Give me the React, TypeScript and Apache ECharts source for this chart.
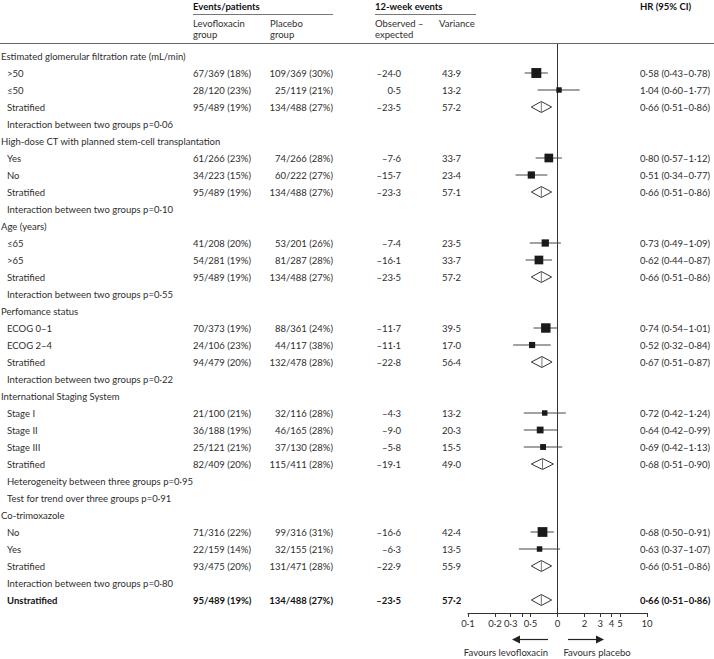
import React, { useEffect, useRef } from "react";
import * as echarts from "echarts";

const FONT = "Lato";
const FS = 9.5;

const rowLabels = [
  "Estimated glomerular filtration rate (mL/min)", ">50", "≤50", "Stratified", "Interaction between two groups p=0·06",
  "High-dose CT with planned stem-cell transplantation", "Yes", "No", "Stratified", "Interaction between two groups p=0·10",
  "Age (years)", "≤65", ">65", "Stratified", "Interaction between two groups p=0·55",
  "Perfomance status", "ECOG 0–1", "ECOG 2–4", "Stratified", "Interaction between two groups p=0·22",
  "International Staging System", "Stage I", "Stage II", "Stage III", "Stratified",
  "Heterogeneity between three groups p=0·95", "Test for trend over three groups p=0·91",
  "Co-trimoxazole", "No", "Yes", "Stratified", "Interaction between two groups p=0·80",
  "Unstratified",
];
// head: group header, sub: subgroup (square), strat: stratified (diamond), note: p-value note, total: bold diamond
const rowKinds = [
  "head", "sub", "sub", "strat", "note",
  "head", "sub", "sub", "strat", "note",
  "head", "sub", "sub", "strat", "note",
  "head", "sub", "sub", "strat", "note",
  "head", "sub", "sub", "sub", "strat", "note", "note",
  "head", "sub", "sub", "strat", "note",
  "total",
];
const levoEvents = [
  "", "67/369 (18%)", "28/120 (23%)", "95/489 (19%)", "",
  "", "61/266 (23%)", "34/223 (15%)", "95/489 (19%)", "",
  "", "41/208 (20%)", "54/281 (19%)", "95/489 (19%)", "",
  "", "70/373 (19%)", "24/106 (23%)", "94/479 (20%)", "",
  "", "21/100 (21%)", "36/188 (19%)", "25/121 (21%)", "82/409 (20%)", "", "",
  "", "71/316 (22%)", "22/159 (14%)", "93/475 (20%)", "",
  "95/489 (19%)",
];
const placeboEvents = [
  "", "109/369 (30%)", "25/119 (21%)", "134/488 (27%)", "",
  "", "74/266 (28%)", "60/222 (27%)", "134/488 (27%)", "",
  "", "53/201 (26%)", "81/287 (28%)", "134/488 (27%)", "",
  "", "88/361 (24%)", "44/117 (38%)", "132/478 (28%)", "",
  "", "32/116 (28%)", "46/165 (28%)", "37/130 (28%)", "115/411 (28%)", "", "",
  "", "99/316 (31%)", "32/155 (21%)", "131/471 (28%)", "",
  "134/488 (27%)",
];
const observedMinusExpected = [
  "", "–24·0", "0·5", "–23·5", "",
  "", "–7·6", "–15·7", "–23·3", "",
  "", "–7·4", "–16·1", "–23·5", "",
  "", "–11·7", "–11·1", "–22·8", "",
  "", "–4·3", "–9·0", "–5·8", "–19·1", "", "",
  "", "–16·6", "–6·3", "–22·9", "",
  "–23·5",
];
const varianceValues = [
  null, 43.9, 13.2, 57.2, null,
  null, 33.7, 23.4, 57.1, null,
  null, 23.5, 33.7, 57.2, null,
  null, 39.5, 17.0, 56.4, null,
  null, 13.2, 20.3, 15.5, 49.0, null, null,
  null, 42.4, 13.5, 55.9, null,
  57.2,
];
const hrValues = [
  null, 0.58, 1.04, 0.66, null,
  null, 0.80, 0.51, 0.66, null,
  null, 0.73, 0.62, 0.66, null,
  null, 0.74, 0.52, 0.67, null,
  null, 0.72, 0.64, 0.69, 0.68, null, null,
  null, 0.68, 0.63, 0.66, null,
  0.66,
];
const hrLow = [
  null, 0.43, 0.60, 0.51, null,
  null, 0.57, 0.34, 0.51, null,
  null, 0.49, 0.44, 0.51, null,
  null, 0.54, 0.32, 0.51, null,
  null, 0.42, 0.42, 0.42, 0.51, null, null,
  null, 0.50, 0.37, 0.51, null,
  0.51,
];
const hrHigh = [
  null, 0.78, 1.77, 0.86, null,
  null, 1.12, 0.77, 0.86, null,
  null, 1.09, 0.87, 0.86, null,
  null, 1.01, 0.84, 0.87, null,
  null, 1.24, 0.99, 1.13, 0.90, null, null,
  null, 0.91, 1.07, 0.86, null,
  0.86,
];

const tickValues = [0.1, 0.2, 0.3, 0.4, 0.5, 1, 2, 3, 4, 5, 10];
const tickLabels = ["0·1", "0·2", "0·3", "", "0·5", "0", "2", "3", "4", "5", "10"];
const labelValues = [0.1, 0.2, 0.3, 0.5, 1, 2, 3, 4, 5, 10];

const fmt = (v: number) => v.toFixed(2).replace(".", "·");

// layout constants
const W = 714;
const H = 659;
const ROW0 = 56;
const ROWH = 17;
const GRID_TOP = 44;
const AXIS_Y = 613;
const GRID_LEFT = 468;
const GRID_RIGHT_X = 647;
const X_LABEL = 1;
const X_INDENT = 7;
const X_LEVO = 193;
const X_PLAC_R = 333;
const X_OE_R = 401;
const X_VAR = 442;
const X_HR = 640;
const TEXT = "#2e2e2e";
const BOLD = "#111";

export default function App() {
  const ref = useRef<HTMLDivElement>(null);
  useEffect(() => {
    if (!ref.current) return;
    const chart = echarts.init(ref.current, null, { renderer: "svg" });
    const yMin = (GRID_TOP - ROW0) / ROWH;
    const yMax = (AXIS_Y - ROW0) / ROWH;

    const textEl = (s: string, x: number, y: number, align: string, bold: boolean) => ({
      type: "text",
      x,
      y,
      style: {
        text: s,
        align,
        verticalAlign: "middle",
        fill: bold ? BOLD : TEXT,
        fontFamily: FONT,
        fontSize: FS,
        fontWeight: bold ? "bold" : "normal",
      },
    });

    const rowsRender = (params: any, api: any) => {
      const i = api.value(0) as number;
      const y = api.coord([1, i])[1];
      const kind = rowKinds[i];
      const bold = kind === "total";
      const children: any[] = [];
      const lx = kind === "head" ? X_LABEL : X_INDENT;
      children.push(textEl(rowLabels[i], lx, y, "left", bold));
      if (levoEvents[i]) children.push(textEl(levoEvents[i], X_LEVO, y, "left", bold));
      if (placeboEvents[i]) children.push(textEl(placeboEvents[i], X_PLAC_R, y, "right", bold));
      if (observedMinusExpected[i]) children.push(textEl(observedMinusExpected[i], X_OE_R, y, "right", bold));
      const v = varianceValues[i];
      if (v != null) children.push(textEl(v.toFixed(1).replace(".", "·"), X_VAR, y, "left", bold));
      const hr = hrValues[i];
      const lo = hrLow[i];
      const hi = hrHigh[i];
      if (hr != null && lo != null && hi != null) {
        children.push(textEl(`${fmt(hr)} (${fmt(lo)}–${fmt(hi)})`, X_HR, y, "left", bold));
        const p0 = api.coord([lo, i]);
        const p1 = api.coord([hi, i]);
        const pc = api.coord([hr, i]);
        if (kind === "sub") {
          const s = 1.5 * Math.sqrt(v as number);
          children.push({
            type: "line",
            shape: { x1: p0[0], y1: y, x2: p1[0], y2: y },
            style: { stroke: "#444", lineWidth: 1 },
          });
          children.push({
            type: "rect",
            shape: { x: pc[0] - s / 2, y: y - s / 2, width: s, height: s },
            style: { fill: "#1a1a1a" },
          });
        } else {
          const hh = 5.5;
          children.push({
            type: "polygon",
            shape: { points: [[p0[0], y], [pc[0], y - hh], [p1[0], y], [pc[0], y + hh]] },
            style: { fill: "#fff", stroke: "#333", lineWidth: 1 },
          });
          children.push({
            type: "line",
            shape: { x1: pc[0], y1: y - hh, x2: pc[0], y2: y + hh },
            style: { stroke: "#777", lineWidth: 1 },
          });
        }
      }
      return { type: "group", children };
    };

    const refRender = (params: any, api: any) => {
      const a = api.coord([api.value(0), yMin]);
      const b = api.coord([api.value(0), yMax]);
      return {
        type: "line",
        shape: { x1: a[0], y1: a[1], x2: b[0], y2: b[1] },
        style: { stroke: "#333", lineWidth: 1 },
      };
    };

    const headerText = (s: string, x: number, y: number, bold = false) => ({
      type: "text",
      x,
      y,
      style: {
        text: s,
        align: "left",
        verticalAlign: "middle",
        fill: bold ? BOLD : TEXT,
        fontFamily: FONT,
        fontSize: FS,
        fontWeight: bold ? "bold" : "normal",
      },
    });

    chart.setOption({
      animation: false,
      backgroundColor: "#fff",
      grid: { left: GRID_LEFT, right: W - GRID_RIGHT_X, top: GRID_TOP, bottom: H - AXIS_Y },
      xAxis: {
        type: "log",
        logBase: 10,
        min: 0.1,
        max: 10,
        position: "bottom",
        splitLine: { show: false },
        axisLine: { show: true, onZero: false, lineStyle: { color: "#333", width: 1 } },
        axisTick: { show: true, inside: false, length: 4, customValues: tickValues, lineStyle: { color: "#333" } },
        axisLabel: {
          show: true,
          margin: 5,
          customValues: labelValues,
          color: TEXT,
          fontFamily: FONT,
          fontSize: FS,
          formatter: (val: number) => {
            const k = tickValues.findIndex((t) => Math.abs(t - val) / t < 1e-6);
            return k >= 0 ? tickLabels[k] : "";
          },
        },
      },
      yAxis: { type: "value", inverse: true, min: yMin, max: yMax, show: false },
      series: [
        {
          type: "custom",
          renderItem: refRender,
          data: [[1]],
          clip: false,
          silent: true,
        },
        {
          type: "custom",
          renderItem: rowsRender,
          data: rowLabels.map((_, i) => [i]),
          encode: { x: -1, y: 0 },
          clip: false,
          silent: true,
        },
      ],
      graphic: [
        headerText("Events/patients", X_LEVO, 6, true),
        { type: "line", shape: { x1: X_LEVO, y1: 14.5, x2: X_PLAC_R, y2: 14.5 }, style: { stroke: "#777", lineWidth: 1 } },
        headerText("Levofloxacin", X_LEVO, 23),
        headerText("group", X_LEVO, 34),
        headerText("Placebo", 270, 23),
        headerText("group", 270, 34),
        headerText("12-week events", 375, 6, true),
        { type: "line", shape: { x1: 375, y1: 14.5, x2: 476, y2: 14.5 }, style: { stroke: "#777", lineWidth: 1 } },
        headerText("Observed –", 375, 23),
        headerText("expected", 375, 34),
        headerText("Variance", 439, 23),
        headerText("HR (95% CI)", X_HR, 6, true),
        { type: "line", shape: { x1: 0, y1: 43.5, x2: W, y2: 43.5 }, style: { stroke: "#666", lineWidth: 1 } },
        { type: "line", shape: { x1: 548, y1: 639.5, x2: 519, y2: 639.5 }, style: { stroke: "#222", lineWidth: 1.2 } },
        { type: "polygon", shape: { points: [[512, 639.5], [520, 635.5], [520, 643.5]] }, style: { fill: "#222" } },
        { type: "line", shape: { x1: 568, y1: 639.5, x2: 597, y2: 639.5 }, style: { stroke: "#222", lineWidth: 1.2 } },
        { type: "polygon", shape: { points: [[604, 639.5], [596, 635.5], [596, 643.5]] }, style: { fill: "#222" } },
        {
          type: "text",
          x: 506,
          y: 652,
          style: { text: "Favours levofloxacin", align: "center", verticalAlign: "middle", fill: TEXT, fontFamily: FONT, fontSize: FS },
        },
        {
          type: "text",
          x: 597,
          y: 652,
          style: { text: "Favours placebo", align: "center", verticalAlign: "middle", fill: TEXT, fontFamily: FONT, fontSize: FS },
        },
      ],
    });
    return () => chart.dispose();
  }, []);
  return (
    <div
      ref={ref}
      style={{ position: "fixed", left: 0, top: 0, width: W, height: H, background: "#fff" }}
    />
  );
}
